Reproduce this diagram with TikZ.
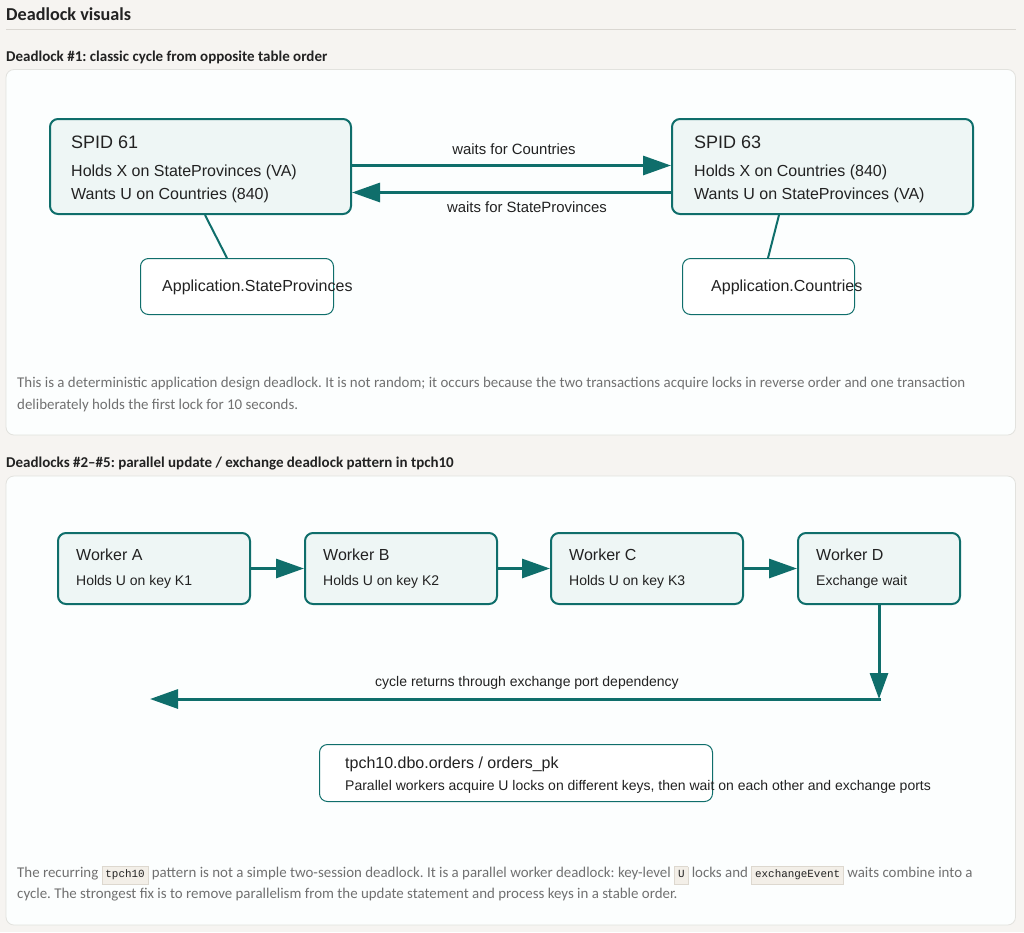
\documentclass[tikz,border=0pt]{standalone}
\usepackage{fontspec}
\setmainfont{Liberation Sans}
\newfontfamily\parafont{Carlito}
\newfontfamily\monof{Liberation Mono}
\usetikzlibrary{arrows.meta,calc}
\definecolor{pagebg}{HTML}{F6F4F1}
\definecolor{panelbg}{HTML}{FCFEFE}
\definecolor{panelline}{HTML}{E2E2DE}
\definecolor{tealc}{HTML}{0F6E6B}
\definecolor{boxfill}{HTML}{EEF6F5}
\definecolor{txt}{HTML}{222222}
\definecolor{graytxt}{HTML}{707070}
\definecolor{rulec}{HTML}{DAD7D2}
\definecolor{badgefill}{HTML}{F3EFE8}
\definecolor{badgeline}{HTML}{DDD8CF}
\newcommand\fs[1]{\fontsize{#1}{#1}\selectfont}
\newcommand\codebox[1]{\begingroup\setlength{\fboxsep}{3.2pt}\setlength{\fboxrule}{0.6pt}\fcolorbox{badgeline}{badgefill}{\monof\fs{10.9}\color{txt}\rule[-3.5pt]{0pt}{11pt}#1}\endgroup}
\frenchspacing
\begin{document}
\begin{tikzpicture}[x=1pt,y=-1pt,
  panel/.style={draw=panelline, fill=panelbg, line width=0.8pt, rounded corners=8pt},
  proc/.style={draw=tealc, line width=2pt, fill=boxfill, rounded corners=8pt, inner sep=0pt, anchor=north west},
  tbl/.style={draw=tealc, line width=1pt, fill=white, rounded corners=8pt, inner sep=0pt, anchor=north west},
  arr/.style={draw=tealc, line width=3pt, -{Triangle[length=28pt,width=19pt]}},
  link/.style={draw=tealc, line width=2pt},
  ttl/.style={anchor=base west, inner sep=0pt, text=txt, font=\fs{18}},
  ln/.style={anchor=base west, inner sep=0pt, text=txt, font=\fs{16}},
  lns/.style={anchor=base west, inner sep=0pt, text=txt, font=\fs{14}},
  elab/.style={anchor=base, inner sep=0pt, text=txt, font=\fs{14}},
  para/.style={anchor=base west, inner sep=0pt, text=graytxt, font=\parafont\fs{14.9}},
  head/.style={anchor=base west, inner sep=0pt, text=txt, font=\parafont\bfseries\fs{18.2}},
  subhead/.style={anchor=base west, inner sep=0pt, text=txt, font=\parafont\bfseries\fs{15}}
]
\fill[pagebg] (0,0) rectangle (1024,932);
\useasboundingbox (0,0) rectangle (1024,932);

% headers
\node[head] (h0) at (6,20) {Deadlock visuals};
\draw[rulec, line width=1pt] (6,29.5) -- (1016,29.5);
\node[subhead] (h1) at (6,61.5) {Deadlock \#1: classic cycle from opposite table order};

% panel 1
\draw[panel] (6,69.5) rectangle (1015.5,435);

\node[proc, minimum width=301pt, minimum height=95pt] (s61) at (49,118) {};
\node[ttl] (s61t) at (71,148) {SPID 61};
\node[ln] (s61a) at (71,176) {Holds X on StateProvinces (VA)};
\node[ln] (s61b) at (71,199.5) {Wants U on Countries (840)};

\node[proc, minimum width=301pt, minimum height=95pt] (s63) at (671,118) {};
\node[ttl] (s63t) at (694,148) {SPID 63};
\node[ln] (s63a) at (694,176) {Holds X on Countries (840)};
\node[ln] (s63b) at (694,199.5) {Wants U on StateProvinces (VA)};

\draw[arr] ([yshift=1pt]s61.east) -- ([yshift=1pt]s61.east -| s63.west);
\draw[arr] ([yshift=-26pt]s63.west) -- ([yshift=-26pt]s63.west -| s61.east);
\node[elab, font=\fs{14.9}] (l1) at (514,154) {waits for Countries};
\node[elab, font=\fs{14.9}] (l2) at (527,212) {waits for StateProvinces};

\node[tbl, minimum width=193pt, minimum height=56pt] (app1) at (140,258) {};
\node[ln] (app1t) at (162,291.5) {Application.StateProvinces};
\node[tbl, minimum width=172pt, minimum height=56pt] (app2) at (682,258) {};
\node[ln] (app2t) at (711,291.5) {Application.Countries};

\draw[link] ($(s61.south west)+(156,0)$) -- ($(app1.north west)+(87,0)$);
\draw[link] ($(s63.south west)+(108,0)$) -- ($(app2.north west)+(86,0)$);

\node[para] (p1a) at (17,387.5) {This is a deterministic application design deadlock. It is not random; it occurs because the two transactions acquire locks in reverse order and one transaction};
\node[para] (p1b) at (17,409.5) {deliberately holds the first lock for 10 seconds.};

% panel 2
\node[subhead] (h2) at (6,467.5) {Deadlocks \#2–\#5: parallel update / exchange deadlock pattern in tpch10};
\draw[panel] (6,476) rectangle (1015.5,925);

\node[proc, minimum width=192pt, minimum height=71pt] (wa) at (57,532) {};
\node[ln] (wat) at (76,560) {Worker A};
\node[lns] (was) at (76,585) {Holds U on key K1};
\node[proc, minimum width=192pt, minimum height=71pt] (wb) at (304,532) {};
\node[ln] (wbt) at (323,560) {Worker B};
\node[lns] (wbs) at (323,585) {Holds U on key K2};
\node[proc, minimum width=192pt, minimum height=71pt] (wc) at (550,532) {};
\node[ln] (wct) at (569,560) {Worker C};
\node[lns] (wcs) at (569,585) {Holds U on key K3};
\node[proc, minimum width=162pt, minimum height=71pt] (wd) at (797,532) {};
\node[ln] (wdt) at (816,560) {Worker D};
\node[lns] (wds) at (816,585) {Exchange wait};

\draw[arr] (wa.east) -- (wb.west);
\draw[arr] (wb.east) -- (wc.west);
\draw[arr] (wc.east) -- (wd.west);

\coordinate (corner) at (wd.south |- 0,699);
\coordinate (ret) at (150,699);
\draw[arr, -{Triangle[length=26pt,width=18pt]}] (wd.south) -- (corner);
\draw[arr] ([xshift=1.5pt]corner) -- (ret);
\node[elab] (l3) at (527,686.5) {cycle returns through exchange port dependency};

\node[tbl, minimum width=393pt, minimum height=57pt] (ord) at (319,744) {};
\node[ln] (ordt) at (345,768) {tpch10.dbo.orders / orders\_pk};
\node[lns] (ords) at (345,790) {Parallel workers acquire U locks on different keys, then wait on each other and exchange ports};

\node[para] (p2a) at (17,877.5) {The recurring \codebox{tpch10} pattern is not a simple two-session deadlock. It is a parallel worker deadlock: key-level \codebox{U} locks and \codebox{exchangeEvent} waits combine into a};
\node[para] (p2b) at (17,898.5) {cycle. The strongest fix is to remove parallelism from the update statement and process keys in a stable order.};
\end{tikzpicture}
\end{document}
